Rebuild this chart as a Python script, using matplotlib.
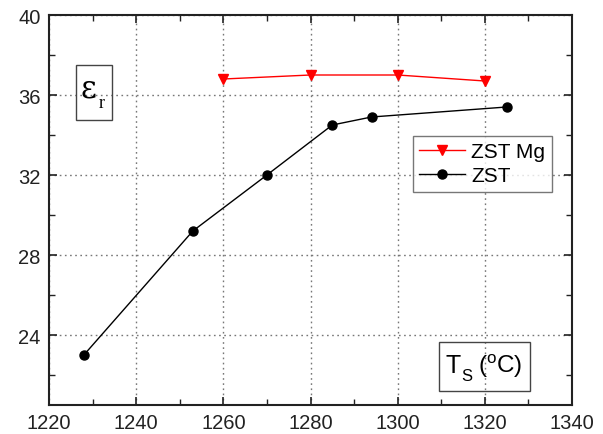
import matplotlib
matplotlib.use("Agg")
import matplotlib.pyplot as plt
from matplotlib.ticker import MultipleLocator

zst_x = [1228, 1253, 1270, 1285, 1294, 1325]
zst_y = [23.0, 29.2, 32.0, 34.5, 34.9, 35.4]
mg_x = [1260, 1280, 1300, 1320]
mg_y = [36.8, 37.0, 37.0, 36.7]
x_ticks = [1220, 1240, 1260, 1280, 1300, 1320, 1340]
y_ticks = [24, 28, 32, 36, 40]

plt.rcParams['font.family'] = ['Liberation Sans', 'DejaVu Sans']

fig = plt.figure(figsize=(6.03, 4.35), dpi=100)
ax = fig.add_axes([49/603, 1-406/435, (572-49)/603, (406-16)/435])

ax.plot(mg_x, mg_y, color='red', lw=1.0, marker='v', ms=7.5, mfc='red', mec='red', label='ZST Mg', zorder=3)
ax.plot(zst_x, zst_y, color='black', lw=1.0, marker='o', ms=6.5, mfc='black', mec='black', label='ZST', zorder=3)

ax.set_xlim(1220, 1340)
ax.set_ylim(20.5, 40)
ax.set_xticks(x_ticks)
ax.set_yticks(y_ticks)
ax.xaxis.set_minor_locator(MultipleLocator(10))
ax.yaxis.set_minor_locator(MultipleLocator(2))
ax.tick_params(which='both', direction='in', top=True, right=True, labelsize=14.5, colors='#222222', pad=6)
ax.tick_params(which='major', length=6, width=1.2)
ax.tick_params(which='minor', length=4, width=1.0)
ax.grid(True, which='major', color='#777777', ls=(0, (1.2, 2.5)), lw=1.0)
for s in ax.spines.values():
    s.set_linewidth(1.5)
    s.set_color('#222222')

leg = ax.legend(loc='upper left', bbox_to_anchor=((413-49)/523, 1-(137-16)/390), fontsize=15,
                frameon=True, fancybox=False, edgecolor='#555555', handlelength=2.2,
                borderpad=0.3, labelspacing=0.25, handletextpad=0.3, borderaxespad=0)
leg.get_frame().set_linewidth(1.0)

fig.text(88/603, 1-89/435, 'ε', fontsize=22, ha='center', va='center', family='DejaVu Serif')
fig.text(102/603, 1-104/435, 'r', fontsize=13, ha='center', va='center', family='Liberation Serif')
rect1 = plt.Rectangle((76/603, 1-121/435), 36/603, 55/435, transform=fig.transFigure,
                      fill=False, ec='#444444', lw=1.0)
fig.patches.append(rect1)

fig.text(446/603, 1-366/435, 'T', fontsize=18, ha='left', va='center')
fig.text(461/603, 1-377/435, 'S', fontsize=12, ha='left', va='center')
fig.text(478/603, 1-366/435, r'($^{\mathregular{o}}$C)', fontsize=17.5, ha='left', va='center')
rect2 = plt.Rectangle((439/603, 1-392/435), 91/603, 49/435, transform=fig.transFigure,
                      fill=False, ec='#444444', lw=1.0)
fig.patches.append(rect2)

fig.savefig('out.png', dpi=100)
